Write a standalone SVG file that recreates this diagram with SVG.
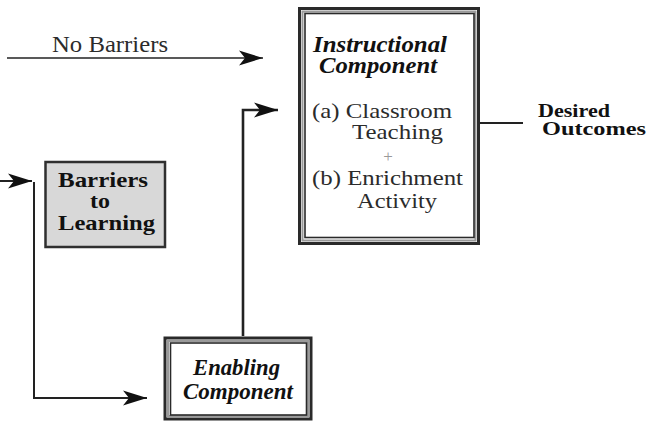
<svg xmlns="http://www.w3.org/2000/svg" width="647" height="421" viewBox="0 0 647 421">
  <style>
    text { font-family: "Liberation Serif", "Times New Roman", serif; }
    .reg { font-size: 22px; fill: #2b2b2b; }
    .label { font-size: 23px; fill: #2b2b2b; }
    .bold { font-size: 22px; font-weight: bold; fill: #111; }
    .out { font-size: 18.5px; font-weight: bold; fill: #111; }
    .bi { font-size: 22.5px; font-weight: bold; font-style: italic; fill: #111; }
    .plus { font-size: 17px; fill: #999; }
    .conn { fill: none; stroke: #222; stroke-linejoin: miter; }
    .frame-outer { fill: none; stroke: #2a2a2a; stroke-width: 3; }
    .frame-mid { fill: none; stroke: #9a9a9a; stroke-width: 2; }
    .frame-inner { fill: none; stroke: #2a2a2a; stroke-width: 1.6; }
  </style>
  <defs>
    <marker id="arrow" markerUnits="userSpaceOnUse" markerWidth="26" markerHeight="16" refX="24" refY="8" orient="auto">
      <path d="M0,0.5 L24,8 L0,15.5 L6,8 Z" fill="#111"/>
    </marker>
  </defs>

  <rect width="647" height="421" fill="#ffffff"/>

  <!-- connectors -->
  <g id="connectors">
    <path class="conn" d="M7,58 H263" stroke-width="1.5" marker-end="url(#arrow)"/>
    <text class="label" x="52" y="52" textLength="116" lengthAdjust="spacingAndGlyphs">No Barriers</text>
    <path class="conn" d="M0,181 H32" stroke-width="2" marker-end="url(#arrow)"/>
    <path class="conn" d="M34,182 V398 H147" stroke-width="2" marker-end="url(#arrow)"/>
    <path class="conn" d="M243,336 V110 H278" stroke-width="2.6" marker-end="url(#arrow)"/>
    <path class="conn" d="M480,123 H523" stroke-width="2"/>
  </g>

  <!-- barriers box -->
  <g id="barriers">
    <rect x="45.5" y="162" width="119.5" height="85" fill="#d8d8d8" stroke="#2f2f2f" stroke-width="2.5"/>
    <text class="bold" x="58" y="187" textLength="90" lengthAdjust="spacingAndGlyphs">Barriers</text>
    <text class="bold" x="90" y="208" textLength="20" lengthAdjust="spacingAndGlyphs">to</text>
    <text class="bold" x="58" y="230" textLength="97" lengthAdjust="spacingAndGlyphs">Learning</text>
  </g>

  <!-- instructional component -->
  <g id="instructional">
    <rect x="299.5" y="8.5" width="179" height="235" fill="#ffffff" class="frame-outer"/>
    <rect x="302.5" y="11.5" width="173" height="229" class="frame-mid"/>
    <rect x="305" y="13.5" width="169" height="224" class="frame-inner"/>
    <text class="bi" x="313" y="52" textLength="134" lengthAdjust="spacingAndGlyphs">Instructional</text>
    <text class="bi" x="319" y="73" textLength="118" lengthAdjust="spacingAndGlyphs">Component</text>
    <text class="reg" x="312" y="118" textLength="140" lengthAdjust="spacingAndGlyphs">(a) Classroom</text>
    <text class="reg" x="352" y="139" textLength="91" lengthAdjust="spacingAndGlyphs">Teaching</text>
    <text class="plus" x="388" y="162" text-anchor="middle">+</text>
    <text class="reg" x="312" y="185" textLength="151" lengthAdjust="spacingAndGlyphs">(b) Enrichment</text>
    <text class="reg" x="357" y="208" textLength="80" lengthAdjust="spacingAndGlyphs">Activity</text>
  </g>

  <!-- enabling component -->
  <g id="enabling">
    <rect x="165" y="338" width="146" height="81" fill="#ffffff" class="frame-outer"/>
    <rect x="168" y="341" width="140" height="75" class="frame-mid"/>
    <rect x="170.5" y="343" width="136" height="72" class="frame-inner"/>
    <text class="bi" x="193" y="375" textLength="87" lengthAdjust="spacingAndGlyphs">Enabling</text>
    <text class="bi" x="183" y="399" textLength="110" lengthAdjust="spacingAndGlyphs">Component</text>
  </g>

  <!-- outcomes -->
  <g id="outcomes">
    <text class="out" x="538" y="117" textLength="72" lengthAdjust="spacingAndGlyphs">Desired</text>
    <text class="out" x="542" y="135" textLength="104" lengthAdjust="spacingAndGlyphs">Outcomes</text>
  </g>
</svg>
